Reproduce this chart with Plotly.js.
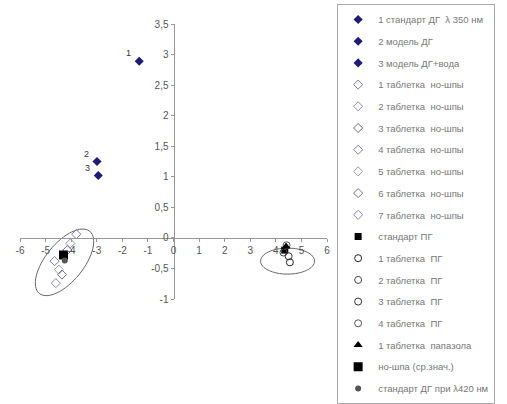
<!DOCTYPE html>
<html>
<head>
<meta charset="utf-8">
<script src="https://cdn.plot.ly/plotly-3.0.1.min.js"></script>
<style>html,body{margin:0;padding:0;background:#fff;}#chart{width:507px;height:404px;}</style>
</head>
<body>
<div id="chart"></div>
<script>
// ---- data ----
var seriesNames = [
  "1 стандарт ДГ  λ 350 нм",
  "2 модель ДГ",
  "3 модель ДГ+вода",
  "1 таблетка  но-шпы",
  "2 таблетка  но-шпы",
  "3 таблетка  но-шпы",
  "4 таблетка  но-шпы",
  "5 таблетка  но-шпы",
  "6 таблетка  но-шпы",
  "7 таблетка  но-шпы",
  "стандарт ПГ",
  "1 таблетка  ПГ",
  "2 таблетка  ПГ",
  "3 таблетка  ПГ",
  "4 таблетка  ПГ",
  "1 таблетка  папазола",
  "но-шпа (ср.знач.)",
  "стандарт ДГ при λ420 нм"
];
var dgX = [-1.34, -2.99, -2.94];
var dgY = [2.89, 1.25, 1.02];
var dgLabels = ["1", "2", "3"];
var noshpaX = [-3.80, -4.03, -4.15, -4.65, -4.48, -4.36, -4.60];
var noshpaY = [0.06, -0.09, -0.20, -0.38, -0.52, -0.60, -0.74];
var pgStdX = [4.35];
var pgStdY = [-0.20];
var pgTabX = [4.55, 4.30, 4.50, 4.42];
var pgTabY = [-0.40, -0.24, -0.30, -0.12];
var papazolX = [4.40];
var papazolY = [-0.14];
var noshpaMeanX = [-4.30];
var noshpaMeanY = [-0.28];
var dg420X = [-4.25];
var dg420Y = [-0.37];
var xTickVals = [-6,-5,-4,-3,-2,-1,0,1,2,3,4,5,6];
var xTickText = ["-6","-5","-4","-3","-2","-1","0","1","2","3","4","5","6"];
var yTickVals = [-1,-0.5,0,0.5,1,1.5,2,2.5,3,3.5];
var yTickText = ["-1","-0,5","0","0,5","1","1,5","2","2,5","3","3,5"];

// ---- style ----
var noshpaColors = ["#7a7ab8","#8c8cc4","#6b6ba0","#8080b0","#9a9ac8","#707098","#8a8aa8"];
var pgColors = ["#222","#444","#333","#555"];
var traces = [];
var g = 0;
function add(t){ t.legendgroup = "g"+(g++); t.type="scatter"; t.mode="markers"; t.hoverinfo="skip"; traces.push(t); }
for (var i=0;i<3;i++) add({x:[dgX[i]], y:[dgY[i]], name:seriesNames[i], marker:{symbol:"diamond", size:7, color:"#1c1c78"}});
for (var i=0;i<7;i++) add({x:[noshpaX[i]], y:[noshpaY[i]], name:seriesNames[3+i], marker:{symbol:"diamond-open", size:7, color:noshpaColors[i], line:{width:1}}});
add({x:pgStdX, y:pgStdY, name:seriesNames[10], marker:{symbol:"square", size:7, color:"#000"}});
for (var i=0;i<4;i++) add({x:[pgTabX[i]], y:[pgTabY[i]], name:seriesNames[11+i], marker:{symbol:"circle-open", size:7, color:pgColors[i], line:{width:1}}});
add({x:papazolX, y:papazolY, name:seriesNames[15], marker:{symbol:"triangle-up", size:8, color:"#000"}});
add({x:noshpaMeanX, y:noshpaMeanY, name:seriesNames[16], marker:{symbol:"square", size:9, color:"#000"}});
add({x:dg420X, y:dg420Y, name:seriesNames[17], marker:{symbol:"circle", size:6, color:"#555"}});

// ellipse as bezier path (pixel-shaped, converted to data units)
var sx = 307/12, sy = 275/4.5;
function ellipsePath(cx, cy, a, b, deg){
  var th = deg*Math.PI/180, k = 0.5523;
  var U = [Math.cos(th), Math.sin(th)], V = [-Math.sin(th), Math.cos(th)];
  function P(u, v){ var px = u*U[0]+v*V[0], py = u*U[1]+v*V[1]; return (cx+px/sx).toFixed(4)+","+(cy+py/sy).toFixed(4); }
  var pts = [[a,0],[0,b],[-a,0],[0,-b]];
  var d = "M"+P(a,0);
  for (var s=0;s<4;s++){
    var p0 = pts[s], p1 = pts[(s+1)%4];
    d += " C"+P(p0[0]+k*p1[0], p0[1]+k*p1[1])+" "+P(p1[0]+k*p0[0], p1[1]+k*p0[1])+" "+P(p1[0],p1[1]);
  }
  return d+" Z";
}

var annotations = dgLabels.map(function(t,i){
  return {x:dgX[i], y:dgY[i], text:t, showarrow:false, xshift:-11, yshift:8,
          font:{family:"Liberation Sans, Arial", size:9, color:"#333"}};
});

var axisFont = {family:"Liberation Sans, Arial", size:10, color:"#555"};
var layout = {
  width:507, height:404,
  margin:{l:20, r:180, t:24, b:105, pad:0},
  paper_bgcolor:"#fff", plot_bgcolor:"#fff",
  showlegend:true,
  xaxis:{range:[-6,6], tickvals:xTickVals, ticktext:xTickText, showgrid:false, zeroline:false,
         showline:true, linecolor:"#999", linewidth:1.5, ticks:"outside", ticklen:3, tickcolor:"#999",
         anchor:"free", position:1/4.5, tickfont:axisFont, fixedrange:true},
  yaxis:{range:[-1,3.5], tickvals:yTickVals, ticktext:yTickText, showgrid:false, zeroline:false,
         showline:true, linecolor:"#999", linewidth:1.5, ticks:"outside", ticklen:3, tickcolor:"#999",
         anchor:"free", position:0.5, tickfont:axisFont, fixedrange:true},
  legend:{x:1.033, xanchor:"left", y:1.04, yanchor:"top", bordercolor:"#aaa", borderwidth:1,
          bgcolor:"#fff", font:{family:"Liberation Sans, Arial", size:9.5, color:"#777"},
          tracegroupgap:2.7, itemwidth:30, maxheight:1000, traceorder:"grouped"},
  shapes:[
    {type:"path", path:ellipsePath(-4.26,-0.40,40,19,51), line:{color:"#666", width:1}, layer:"below"},
    {type:"path", path:ellipsePath(4.46,-0.38,27,13,0), line:{color:"#666", width:1}, layer:"below"}
  ],
  annotations:annotations
};
Plotly.newPlot("chart", traces, layout, {staticPlot:true, displayModeBar:false});
</script>
</body>
</html>
